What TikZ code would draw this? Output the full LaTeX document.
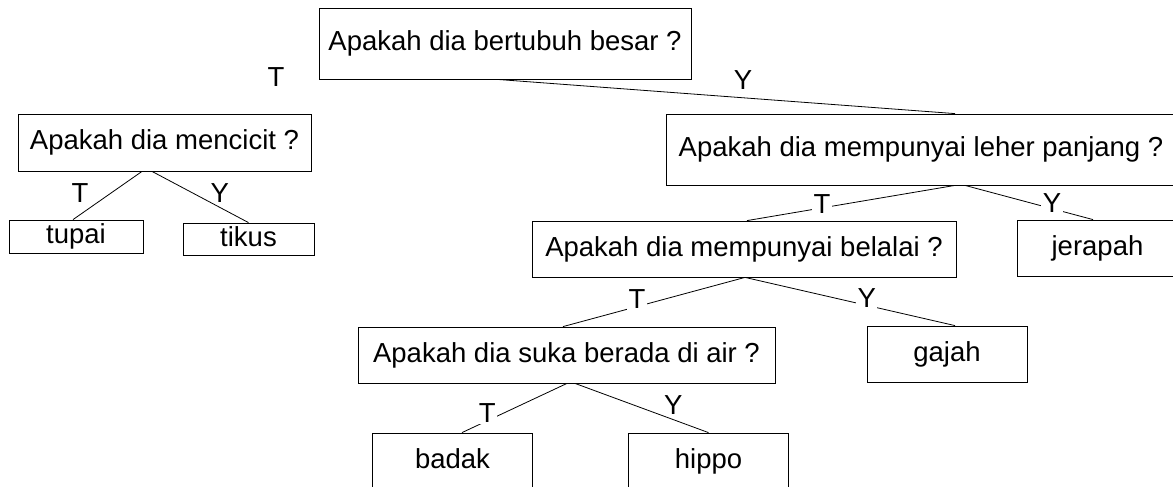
\documentclass[tikz,border=0pt]{standalone}
\usepackage{fontspec}
\setmainfont{Liberation Sans}
\usetikzlibrary{positioning}
\tikzset{box/.style={draw, line width=0.8pt, inner sep=0pt, text height=20pt, text depth=6pt,
                     font=\fontsize{27.5pt}{33pt}\selectfont},
         lbl/.style={inner sep=1.5pt, font=\fontsize{27.5pt}{33pt}\selectfont},
         onedge/.style={lbl, fill=white},
         node distance=106pt}

\begin{document}
\begin{tikzpicture}[x=1pt, y=1pt, line width=0.8pt]
    \useasboundingbox (0,0) rectangle (1173,-487);
    \node[box, minimum width=372pt, minimum height=71pt] (besar) at (505,-43.5) {Apakah dia bertubuh besar ?};
    \node[box, minimum width=293pt, minimum height=57pt, below of=besar, xshift=-340.5pt, yshift=7pt] (cicit) {Apakah dia mencicit ?};
    \node[box, minimum width=510pt, minimum height=71pt, below of=besar, xshift=416pt] (leher) {Apakah dia mempunyai leher panjang ?};
    \node[box, minimum width=134pt, minimum height=33pt, below of=cicit, xshift=-88.5pt, yshift=12pt] (tupai) {tupai};
    \node[box, minimum width=131pt, minimum height=32pt, below of=cicit, xshift=84pt, yshift=9.5pt] (tikus) {tikus};
    \node[box, minimum width=424pt, minimum height=56pt, below of=leher, xshift=-177pt, yshift=6.5pt] (belalai) {Apakah dia mempunyai belalai ?};
    \node[box, minimum width=161pt, minimum height=56pt, below of=leher, xshift=176.5pt, yshift=7.5pt] (jerapah) {jerapah};
    \node[box, minimum width=417pt, minimum height=56pt, below of=belalai, xshift=-177.5pt] (air) {Apakah dia suka berada di air ?};
    \node[box, minimum width=160pt, minimum height=56pt, below of=belalai, xshift=203pt, yshift=1pt] (gajah) {gajah};
    \node[box, minimum width=160pt, minimum height=56pt, below of=air, xshift=-114pt] (badak) {badak};
    \node[box, minimum width=160pt, minimum height=56pt, below of=air, xshift=142pt] (hippo) {hippo};

    % jawaban T / Y
    \node[lbl] (tBesar) at (276,-77) {T};
    \draw ([xshift=-8pt]besar.south) -- node[lbl, pos=0.537, yshift=18pt] (yBesar) {Y} ([xshift=34pt]leher.north);
    \draw ([xshift=-22.5pt]cicit.south) -- node[lbl, pos=0.449, xshift=-31pt] (tCicit) {T} ([xshift=-3pt]tupai.north);
    \draw ([xshift=-12.5pt]cicit.south) -- node[lbl, pos=0.423, xshift=27pt] (yCicit) {Y} (tikus.north);
    \draw ([xshift=34pt]leher.south) -- node[onedge, pos=0.639, yshift=4pt] (tLeher) {T} ([xshift=3pt]belalai.north);
    \draw ([xshift=44pt]leher.south) -- node[onedge, pos=0.68, yshift=6pt] (yLeher) {Y} ([xshift=-4.5pt]jerapah.north);
    \draw ([xshift=1pt]belalai.south) -- node[onedge, pos=0.593, yshift=8pt] (tBelalai) {T} ([xshift=-3.5pt]air.north);
    \draw ([xshift=1pt]belalai.south) -- node[onedge, pos=0.58, yshift=7.5pt] (yBelalai) {Y} ([xshift=8pt]gajah.north);
    \draw ([xshift=0.5pt]air.south) -- node[onedge, pos=0.76, yshift=8pt] (tAir) {T} ([xshift=9.5pt]badak.north);
    \draw ([xshift=8.5pt]air.south) -- node[lbl, pos=0.737, yshift=15pt] (yAir) {Y} (hippo.north);
\end{tikzpicture}
\end{document}
